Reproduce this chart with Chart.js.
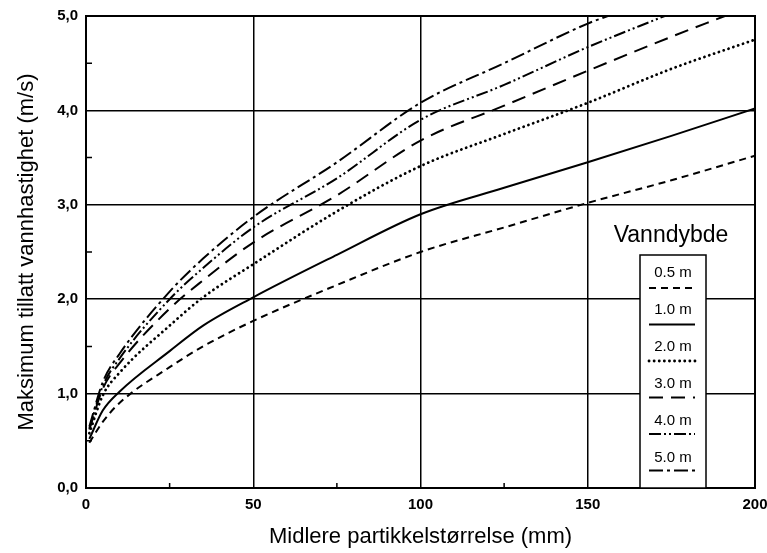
<!DOCTYPE html>
<html>
<head>
<meta charset="utf-8">
<script src="https://cdn.jsdelivr.net/npm/chart.js@4"></script>
<style>
  html, body { margin: 0; padding: 0; background: #fff; }
  canvas { display: block; }
</style>
</head>
<body>
<canvas id="c" width="767" height="553"></canvas>
<script>
// ---- Data ----
const xTitle = 'Midlere partikkelstørrelse (mm)';
const yTitle = 'Maksimum tillatt vannhastighet (m/s)';
const legendTitle = 'Vanndybde';
const seriesLabels = ['0.5 m', '1.0 m', '2.0 m', '3.0 m', '4.0 m', '5.0 m'];

const x05 = [1, 5, 10, 25, 35, 50, 75, 100, 125, 150, 175, 200];
const y05 = [0.48, 0.70, 0.90, 1.28, 1.50, 1.77, 2.15, 2.50, 2.76, 3.02, 3.26, 3.52];

const x10 = [1, 5, 10, 25, 35, 50, 75, 100, 125, 150, 175, 200];
const y10 = [0.52, 0.82, 1.02, 1.45, 1.72, 2.02, 2.47, 2.90, 3.18, 3.45, 3.73, 4.02];

const x20 = [1, 5, 10, 25, 35, 50, 75, 100, 125, 150, 175, 200];
const y20 = [0.58, 0.98, 1.22, 1.72, 2.02, 2.37, 2.93, 3.41, 3.75, 4.08, 4.44, 4.75];

const x30 = [1, 5, 10, 25, 35, 50, 75, 100, 125, 150, 175, 191];
const y30 = [0.62, 1.05, 1.32, 1.90, 2.20, 2.60, 3.10, 3.68, 4.05, 4.42, 4.78, 5.00];

const x40 = [1, 5, 10, 25, 35, 50, 75, 100, 125, 150, 173];
const y40 = [0.63, 1.08, 1.37, 2.00, 2.33, 2.76, 3.28, 3.90, 4.27, 4.67, 5.00];

const x50 = [1, 5, 10, 25, 35, 50, 75, 100, 125, 150, 156];
const y50 = [0.65, 1.12, 1.42, 2.08, 2.43, 2.87, 3.45, 4.08, 4.50, 4.92, 5.00];

const xMajor = [0, 50, 100, 150, 200];
const xMinor = [25, 75, 125, 175];
const yMajor = [0, 1, 2, 3, 4, 5];
const yMinor = [0.5, 1.5, 2.5, 3.5, 4.5];

// ---- Styles ----
const dashes = [[7, 5], [], [0.1, 5], [14, 8], [12, 3, 2, 3, 2, 3], [14, 4, 3, 4]];
const widths = [2, 2, 2.8, 2, 2, 2];
const caps = ['butt', 'butt', 'round', 'butt', 'butt', 'butt'];

const xs = [x05, x10, x20, x30, x40, x50];
const ys = [y05, y10, y20, y30, y40, y50];

const datasets = seriesLabels.map((lab, i) => ({
  label: lab,
  data: xs[i].map((x, j) => ({ x: x, y: ys[i][j] })),
  borderColor: '#000',
  backgroundColor: '#000',
  borderWidth: widths[i],
  borderDash: dashes[i],
  borderCapStyle: caps[i],
  pointRadius: 0,
  fill: false,
  cubicInterpolationMode: 'monotone'
}));

const framePlugin = {
  id: 'frame',
  afterDatasetsDraw(chart) {
    const { ctx, chartArea: a, scales } = chart;
    ctx.save();
    ctx.strokeStyle = '#000';
    ctx.lineWidth = 2;
    ctx.setLineDash([]);
    ctx.strokeRect(a.left, a.top, a.right - a.left, a.bottom - a.top);
    // minor ticks
    ctx.lineWidth = 1.5;
    ctx.beginPath();
    xMinor.forEach(v => {
      const px = scales.x.getPixelForValue(v);
      ctx.moveTo(px, a.bottom);
      ctx.lineTo(px, a.bottom - 5);
    });
    yMinor.forEach(v => {
      const py = scales.y.getPixelForValue(v);
      ctx.moveTo(a.left, py);
      ctx.lineTo(a.left + 6, py);
    });
    ctx.stroke();

    // legend
    const boxL = 640, boxR = 706, boxT = 255, boxB = a.bottom;
    ctx.fillStyle = '#fff';
    ctx.fillRect(boxL, boxT, boxR - boxL, boxB - boxT);
    ctx.lineWidth = 1.5;
    ctx.strokeRect(boxL, boxT, boxR - boxL, boxB - boxT);
    ctx.fillStyle = '#000';
    ctx.textAlign = 'center';
    ctx.textBaseline = 'middle';
    ctx.font = '23px "Liberation Sans", Arial, sans-serif';
    ctx.fillText(legendTitle, 671, 236);
    ctx.font = '15px "Liberation Sans", Arial, sans-serif';
    const cx = (boxL + boxR) / 2;
    seriesLabels.forEach((lab, i) => {
      const ty = 273 + i * 37;
      const ly = 288 + i * 36.5;
      ctx.fillText(lab, cx, ty);
      ctx.beginPath();
      ctx.setLineDash(dashes[i]);
      ctx.lineCap = caps[i];
      ctx.lineWidth = widths[i];
      ctx.moveTo(649, ly);
      ctx.lineTo(695, ly);
      ctx.stroke();
    });
    ctx.restore();
  }
};

new Chart(document.getElementById('c'), {
  type: 'line',
  data: { datasets: datasets },
  options: {
    responsive: false,
    devicePixelRatio: 1,
    animation: false,
    layout: { padding: { top: 16, right: 12, left: 0, bottom: 0 } },
    plugins: { legend: { display: false }, tooltip: { enabled: false } },
    scales: {
      x: {
        type: 'linear',
        min: 0, max: 200,
        afterBuildTicks: s => { s.ticks = xMajor.map(v => ({ value: v })); },
        afterFit: s => { s.height = 65; s.paddingLeft = 0; s.paddingRight = 0; },
        ticks: {
          color: '#000',
          padding: 8,
          font: { family: '"Liberation Sans", Arial, sans-serif', size: 15, weight: 'bold' },
          maxRotation: 0
        },
        grid: { color: '#000', lineWidth: 1.5, drawTicks: false },
        border: { display: true, color: '#000', width: 2 },
        title: {
          display: true, text: xTitle, color: '#000',
          font: { family: '"Liberation Sans", Arial, sans-serif', size: 22 },
          padding: { top: 0, bottom: 3 }
        }
      },
      y: {
        type: 'linear',
        min: 0, max: 5,
        afterBuildTicks: s => { s.ticks = yMajor.map(v => ({ value: v })); },
        afterFit: s => { s.width = 86; s.paddingTop = 0; s.paddingBottom = 0; },
        ticks: {
          color: '#000',
          padding: 8,
          font: { family: '"Liberation Sans", Arial, sans-serif', size: 15, weight: 'bold' },
          callback: v => Number(v).toFixed(1).replace('.', ',')
        },
        grid: { color: '#000', lineWidth: 1.5, drawTicks: false },
        border: { display: true, color: '#000', width: 2 },
        title: {
          display: true, text: yTitle, color: '#000',
          font: { family: '"Liberation Sans", Arial, sans-serif', size: 22 },
          padding: { top: 14, bottom: 0 }
        }
      }
    }
  },
  plugins: [framePlugin]
});
</script>
</body>
</html>
